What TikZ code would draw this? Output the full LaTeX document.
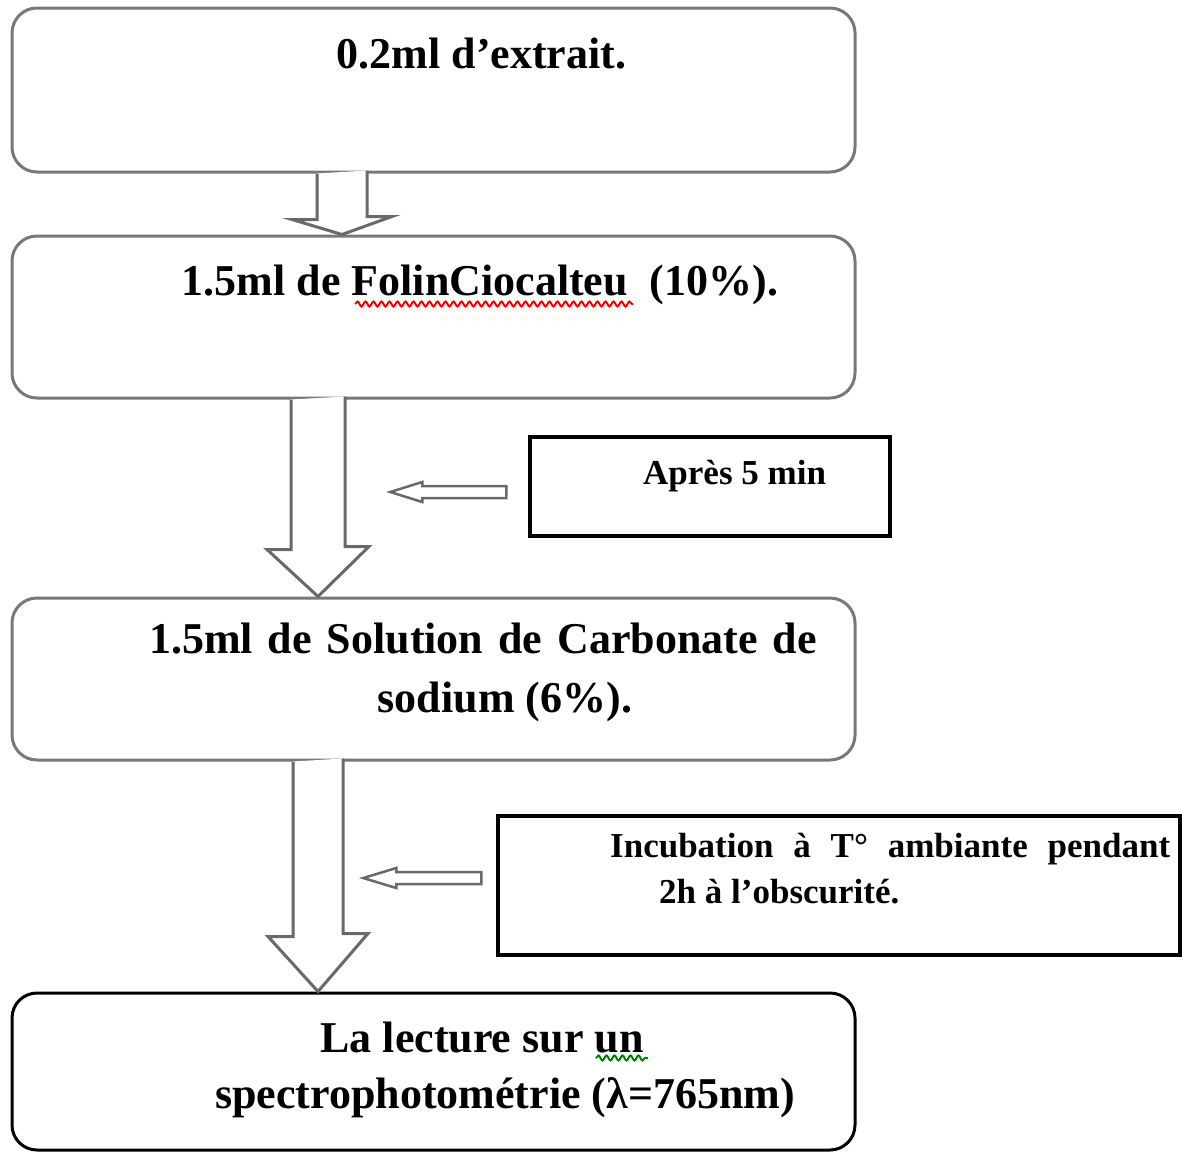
\documentclass[tikz,border=0pt]{standalone}
\usepackage{fontspec}
\setmainfont{Liberation Serif}
\usetikzlibrary{calc,decorations.pathmorphing}
\definecolor{boxgray}{RGB}{120,120,120}
\definecolor{arrowgray}{RGB}{105,105,105}

\begin{document}
\begin{tikzpicture}[x=1pt,y=-1pt,
    etapa/.style={draw=boxgray, line width=3pt, rounded corners=25pt, minimum width=843pt, inner sep=0pt},
    nota/.style={draw=black, line width=3.5pt, inner sep=0pt},
    texto/.style={font=\fontsize{44}{53}\selectfont\bfseries, inner sep=0pt, anchor=base},
    textonota/.style={font=\fontsize{35}{42}\selectfont\bfseries, inner sep=0pt, anchor=base west},
    flecha/.style={draw=arrowgray, line width=3pt, fill=white, line join=miter},
    flechita/.style={draw=arrowgray, line width=2.5pt, fill=white},
    subrayado/.style={decorate, decoration={snake, amplitude=2.5pt, segment length=8pt}, line width=2pt}]

    \useasboundingbox (0,0) rectangle (1182,1151);

    % Ejes de las flechas grandes
    \coordinate (eje1) at (342,0);
    \coordinate (eje2) at (318,0);

    % Nodos para las etapas
    \node (b1) [etapa, minimum height=164pt] at (433.5,90) {};
    \node (b2) [etapa, minimum height=162pt] at (433.5,317) {};
    \node (b3) [etapa, minimum height=162pt] at (433.5,679) {};
    \node (b4) [etapa, draw=black, minimum height=157pt] at (433.5,1071.5) {};

    % Nodos para las notas laterales
    \node (sA) [nota, minimum width=360pt, minimum height=99pt] at (710,486.5) {};
    \node (sB) [nota, minimum width=682pt, minimum height=139pt] at (839,885.5) {};

    % Flechas entre etapas
    \draw[flecha] (b1.south -| eje1) ++(-25,0) -- ++(0,46) -- ++(-25,0) -- (b2.north -| eje1)
        -- ++(50,-18) -- ++(-25,0) -- ++(0,-46);
    \draw[flecha] (b2.south -| eje2) ++(-27,0) -- ++(0,150) -- ++(-24,0) -- (b3.north -| eje2)
        -- ++(51,-50) -- ++(-24,0) -- ++(0,-150);
    \draw[flecha] (b3.south -| eje2) ++(-25,0) -- ++(0,175) -- ++(-25,0) -- (b4.north -| eje2)
        -- ++(50,-58) -- ++(-25,0) -- ++(0,-175);

    % Flechas desde las notas
    \draw[flechita] ($(sA.west)+(-22,5.5)$) ++(0,-6) -- ++(-84,0) -- ++(0,-4) -- ++(-32,10)
        -- ++(32,10) -- ++(0,-4) -- ++(84,0) -- cycle;
    \draw[flechita] ($(sB.west)+(-15,-7.5)$) ++(0,-6) -- ++(-85,0) -- ++(0,-4) -- ++(-33,10)
        -- ++(33,10) -- ++(0,-4) -- ++(85,0) -- cycle;

    % Textos de las etapas
    \node (t1) [texto] at (481.5,68) {0.2ml d’extrait.};
    \node (t2) [texto] at (480,295) {1.5ml de FolinCiocalteu\ \ (10\%).};
    \node (t3a) [texto] at (483,653) {\makebox[668pt][s]{1.5ml de Solution de Carbonate de}};
    \node (t3b) [texto] at (505,712) {sodium (6\%).};
    \node (t4a) [texto] at (482,1052) {La lecture sur un};
    \node (t4b) [texto] at (505,1108) {spectrophotométrie (λ=765nm)};

    % Textos de las notas
    \node (tA) [textonota] at (643,484) {Après 5 min};
    \node (tB1) [textonota] at (610,857) {\makebox[560pt][s]{Incubation à T° ambiante pendant}};
    \node (tB2) [textonota] at (659,903) {2h à l’obscurité.};

    % Subrayados del corrector
    \draw[subrayado, red] (355,304) -- (633,304);
    \draw[subrayado, green!50!black] (596,1058) -- (648,1058);

\end{tikzpicture}
\end{document}
